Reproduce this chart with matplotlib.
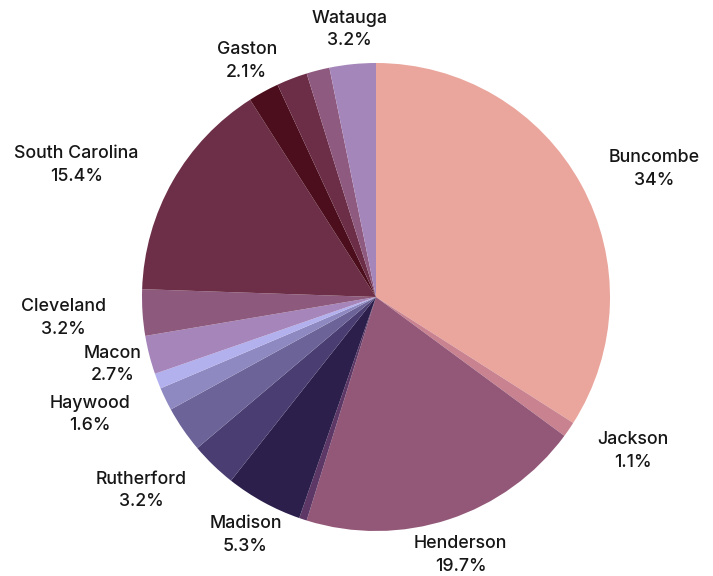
import numpy as np
import matplotlib
matplotlib.use("Agg")
import matplotlib.pyplot as plt

# slices clockwise from 12 o'clock; '' = slice shown without a label
names = ["Buncombe", "Jackson", "Henderson", "", "Madison", "Rutherford", "",
         "Haywood", "", "Macon", "Cleveland", "South Carolina", "Gaston", "",
         "", "Watauga"]
counts = [64, 2, 37, 1, 10, 6, 6, 3, 2, 5, 6, 29, 4, 4, 3, 6]
colors = ["#EAA69D", "#C98290", "#935878", "#5D3866", "#2C1F4C", "#4A3D71",
          "#6C6498", "#8E89C0", "#B3B0EE", "#A685BA", "#8D5A7E", "#6D2F47",
          "#4C0E1C", "#6C2E47", "#8F5A7F", "#A586BA"]

# label layout: radial distance (x radius) and angular nudge (deg, + = clockwise)
label_dist = [1.31, 1.28, 1.16, 0, 1.16, 1.30, 0, 1.32, 0, 1.16, 1.34, 1.40,
              1.15, 0, 0, 1.15]
label_nudge = [4, -3.5, 0, 0, 0, 6.4, 0, 3.5, 0, 0, 0, -5.9, 0, 0, 0, 0]

plt.rcParams['font.family'] = ['Inter', 'DejaVu Sans']

W, H = 713, 576
fig = plt.figure(figsize=(W / 100, H / 100), dpi=100)
ax = fig.add_axes([0, 0, 1, 1])

wedges, _ = ax.pie(counts, colors=colors, startangle=90, counterclock=False,
                   wedgeprops=dict(linewidth=0))

total = sum(counts)
for w, name, c, d, nudge in zip(wedges, names, counts, label_dist, label_nudge):
    if not name:
        continue
    pct = round(100 * c / total, 1)
    pct_txt = f"{pct:g}%"
    ang = np.deg2rad((w.theta1 + w.theta2) / 2 - nudge)
    ax.text(d * np.cos(ang), d * np.sin(ang), f"{name}\n{pct_txt}",
            ha="center", va="center", fontsize=12.8, fontweight="medium",
            color="#161616", linespacing=1.42)

# pie centre at (376, 297) px, radius 234 px
cx, cy, r = 376, 297, 234
ax.set_xlim(-cx / r, (W - cx) / r)
ax.set_ylim(-(H - cy) / r, cy / r)
ax.set_aspect("equal")
ax.axis("off")

fig.savefig("out.png", dpi=100)
